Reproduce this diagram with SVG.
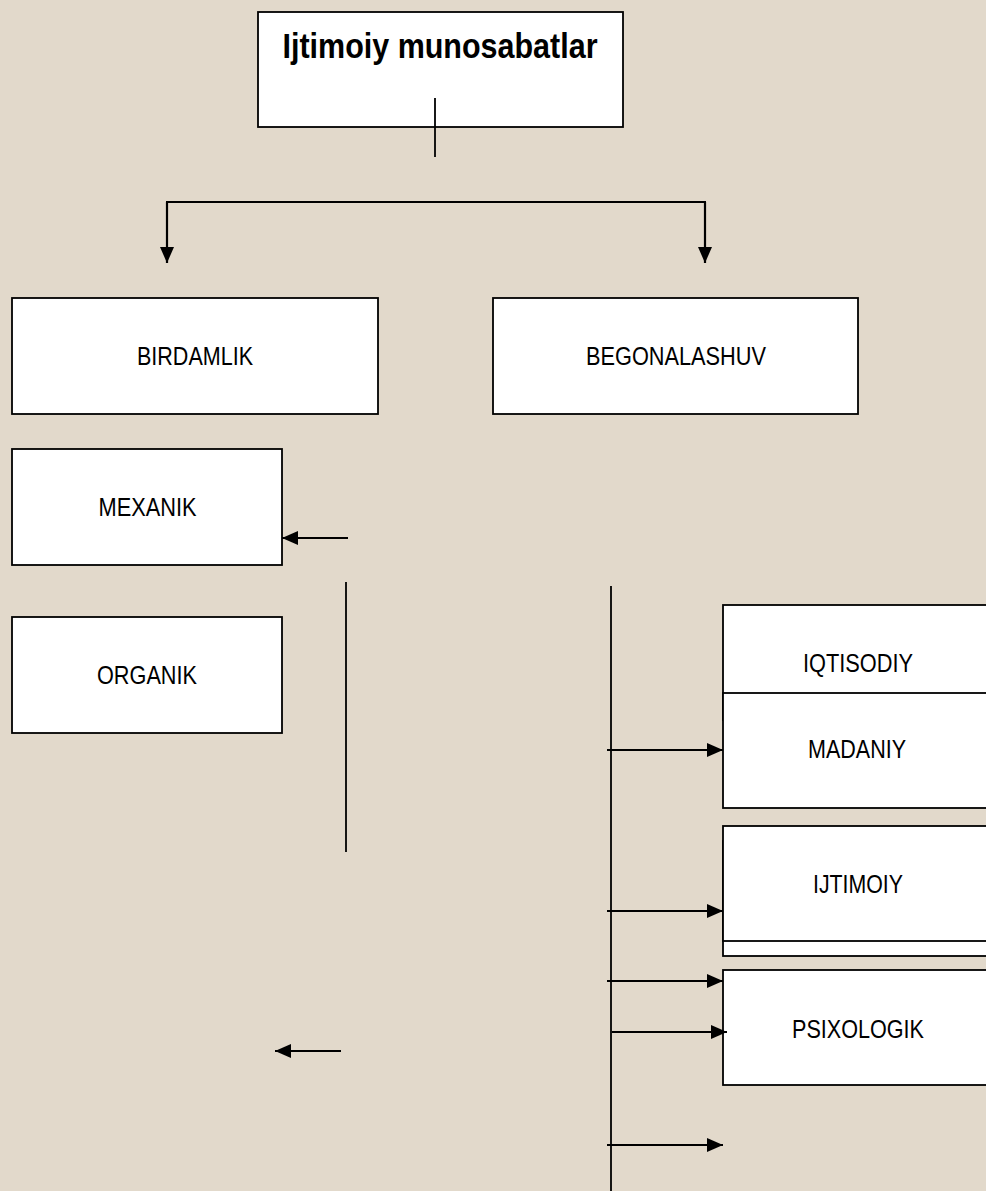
<svg xmlns="http://www.w3.org/2000/svg" width="986" height="1191" viewBox="0 0 986 1191">
<style>
.box{fill:#ffffff;stroke:#000000;stroke-width:1.8}
.lbl{font-family:"Liberation Sans",Arial,sans-serif;font-size:25px;fill:#000;text-anchor:middle}
.ttl{font-family:"Liberation Sans",Arial,sans-serif;font-size:35px;font-weight:bold;fill:#000;text-anchor:middle}
.ln{stroke:#000;stroke-width:1.8;fill:none}
.ar{stroke:#000;stroke-width:2.2;fill:none;marker-end:url(#ah)}
</style>
<defs>
<marker id="ah" markerUnits="userSpaceOnUse" markerWidth="16" markerHeight="14" refX="16" refY="7" orient="auto">
<path d="M0,0 L16,7 L0,14 z" fill="#000"/>
</marker>
</defs>
<rect x="0" y="0" width="986" height="1191" fill="#e2d9cb"/>
<g id="n-title">
<rect class="box" x="258" y="12" width="365" height="115"/>
<text class="ttl" x="440" y="58" textLength="315" lengthAdjust="spacingAndGlyphs">Ijtimoiy munosabatlar</text>
</g>
<g id="n-birdamlik">
<rect class="box" x="12" y="298" width="366" height="116"/>
<text class="lbl" x="195" y="365" textLength="116" lengthAdjust="spacingAndGlyphs">BIRDAMLIK</text>
</g>
<g id="n-begonalashuv">
<rect class="box" x="493" y="298" width="365" height="116"/>
<text class="lbl" x="676" y="365" textLength="180" lengthAdjust="spacingAndGlyphs">BEGONALASHUV</text>
</g>
<g id="n-mexanik">
<rect class="box" x="12" y="449" width="270" height="116"/>
<text class="lbl" x="147.5" y="516" textLength="98" lengthAdjust="spacingAndGlyphs">MEXANIK</text>
</g>
<g id="n-organik">
<rect class="box" x="12" y="617" width="270" height="116"/>
<text class="lbl" x="147" y="684" textLength="100" lengthAdjust="spacingAndGlyphs">ORGANIK</text>
</g>
<g id="n-iqtisodiy">
<rect class="box" x="723" y="605" width="300" height="115"/>
<text class="lbl" x="858" y="672" textLength="110" lengthAdjust="spacingAndGlyphs">IQTISODIY</text>
</g>
<g id="n-madaniy">
<rect class="box" x="723" y="693" width="300" height="115"/>
<text class="lbl" x="857" y="758" textLength="98" lengthAdjust="spacingAndGlyphs">MADANIY</text>
</g>
<g id="n-hidden">
<rect class="box" x="723" y="841" width="300" height="115"/>
</g>
<g id="n-ijtimoiy">
<rect class="box" x="723" y="826" width="300" height="115"/>
<text class="lbl" x="858" y="893" textLength="90" lengthAdjust="spacingAndGlyphs">IJTIMOIY</text>
</g>
<g id="n-psixologik">
<rect class="box" x="723" y="970" width="300" height="115"/>
<text class="lbl" x="858" y="1038" textLength="132" lengthAdjust="spacingAndGlyphs">PSIXOLOGIK</text>
</g>
<g id="connectors">
<line class="ln" x1="435" y1="98" x2="435" y2="157"/>
<line class="ln" x1="166" y1="202" x2="706" y2="202"/>
<line class="ar" x1="167" y1="202" x2="167" y2="263"/>
<line class="ar" x1="705" y1="202" x2="705" y2="263"/>
<line class="ar" x1="348" y1="538" x2="282" y2="538"/>
<line class="ln" x1="346" y1="582" x2="346" y2="852"/>
<line class="ln" x1="611" y1="586" x2="611" y2="1191"/>
<line class="ar" x1="607" y1="750" x2="723" y2="750"/>
<line class="ar" x1="607" y1="911" x2="723" y2="911"/>
<line class="ar" x1="607" y1="981" x2="723" y2="981"/>
<line class="ar" x1="612" y1="1032" x2="727" y2="1032"/>
<line class="ar" x1="607" y1="1145" x2="723" y2="1145"/>
<line class="ar" x1="341" y1="1051" x2="275" y2="1051"/>
</g>
</svg>
